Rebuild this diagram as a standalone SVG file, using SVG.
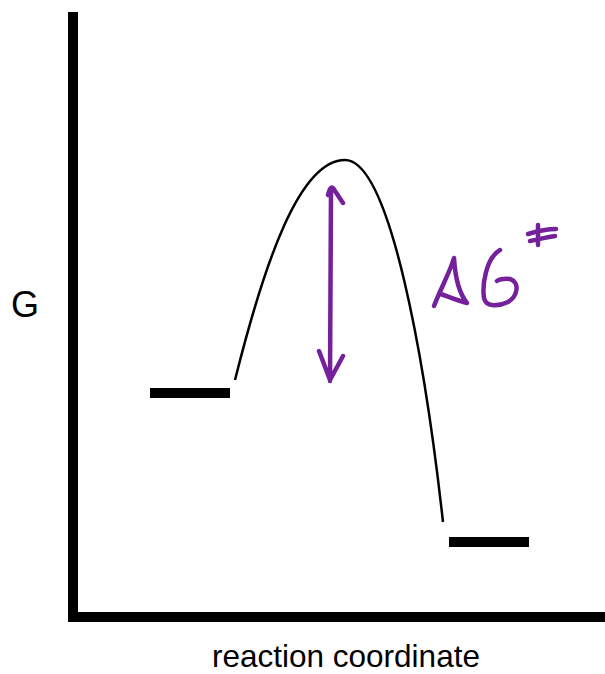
<svg xmlns="http://www.w3.org/2000/svg" width="605" height="674" viewBox="0 0 605 674">
<style>
.lbl{font-family:"Liberation Sans",Arial,sans-serif;fill:#000}
.pen{fill:none;stroke:#74219b;stroke-width:4.5;stroke-linecap:round;stroke-linejoin:round}
</style>
<rect width="605" height="674" fill="#fff"/>
<g id="axes">
<path d="M73 12 V617 H605" fill="none" stroke="#000" stroke-width="10"/>
</g>
<g id="reactant"><rect x="150" y="388" width="80" height="10" fill="#000"/></g>
<g id="product"><rect x="449" y="537" width="80" height="10" fill="#000"/></g>
<g id="connectors">
<path d="M235 380 C265 260 300 160 345 160 C390 160 425 360 443 522" fill="none" stroke="#000" stroke-width="2.5"/>
<path class="pen" d="M331 190 L330 381 M319 351 L330 380 L343 356 M328 195 Q330 186 333 188 L343 203"/>
</g>
<g id="label-dG">
<path class="pen" d="M434 306 C440 290 450 272 454 258 C455 275 458 292 467 303 C455 300 447 296 441 294"/>
<path class="pen" d="M500 250 C486 258 482 285 484 298 C486 308 500 306 508 302 C518 296 520 282 510 279 C503 278 498 280 497 281"/>
<path class="pen" d="M538 225 L538 245 M528 234 C538 231 546 229 556 229 M530 241 C540 239 548 237 555 236"/>
</g>
<text class="lbl" x="11" y="317" font-size="36">G</text>
<text class="lbl" x="212" y="667" font-size="31.5">reaction coordinate</text>
</svg>
